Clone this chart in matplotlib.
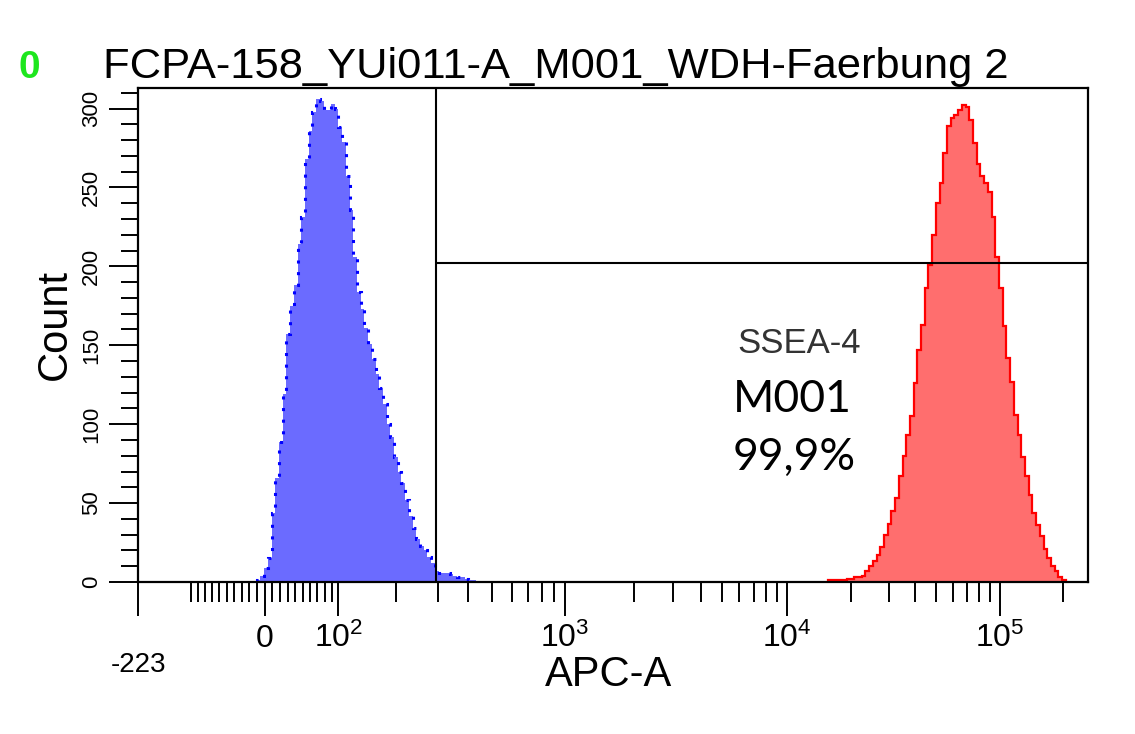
import numpy as np
import matplotlib
matplotlib.use("Agg")
import matplotlib.pyplot as plt

# ---- data ----
title = "FCPA-158_YUi011-A_M001_WDH-Faerbung 2"
x_label = "APC-A"
y_label = "Count"

# biexponential (logicle) display of the APC-A channel
T_top = 262144.0
M_dec = 4.5
W_lin = 0.6
n_channels = 256

# counts per display channel
blue_first = 32
blue_counts = [1, 4, 9, 15, 44, 66, 89, 119, 157, 175, 188, 214, 231, 268, 286,
               298, 306, 305, 299, 299, 303, 300, 288, 279, 257, 236, 206, 184,
               173, 161, 151, 141, 132, 123, 113, 100, 92, 79, 70, 63, 52, 42,
               34, 27, 23, 20, 16, 12, 7, 6, 6, 6, 5, 4, 3, 3, 2, 1, 1]
red_first = 186
red_counts = [1, 1, 1, 1, 1, 2, 2, 3, 3, 4, 7, 10, 13, 17, 22, 30, 37, 45, 53,
              67, 80, 93, 105, 126, 147, 163, 186, 201, 220, 240, 253, 272, 289,
              294, 296, 299, 302, 301, 293, 278, 265, 257, 253, 247, 231, 206,
              186, 162, 142, 127, 106, 93, 79, 67, 55, 44, 36, 29, 21, 15, 10,
              7, 3, 1]

gate_x = 295
gate_y = 202

x_major = [0, 1e2, 1e3, 1e4, 1e5]
x_major_labels = ["0", "$10^{2}$", "$10^{3}$", "$10^{4}$", "$10^{5}$"]
x_min_label = "-223"
y_major = [0, 50, 100, 150, 200, 250, 300]
y_max = 313

marker_name = "SSEA-4"
marker_gate = "M001"
marker_pct = "99,9%"


# ---- logicle transform ----
def solve_p(w):
    lo, hi = 1.000001, 1000.0
    for _ in range(200):
        mid = 0.5 * (lo + hi)
        if 2 * mid * np.log10(mid) / (mid + 1) < w:
            lo = mid
        else:
            hi = mid
    return 0.5 * (lo + hi)


p = solve_p(W_lin)


def logicle_inv(y):
    y = np.asarray(y, dtype=float)
    yy = np.where(y >= W_lin, y, 2 * W_lin - y)
    v = T_top * 10 ** (-(M_dec - W_lin)) * (10 ** (yy - W_lin)
        - p ** 2 * 10 ** (-(yy - W_lin) / p) + p ** 2 - 1)
    return np.where(y >= W_lin, v, -v)


grid_y = np.linspace(-1.5, M_dec + 1.0, 40001)
grid_x = logicle_inv(grid_y)


def logicle_fwd(x):
    return np.interp(np.asarray(x, dtype=float), grid_x, grid_y)


plt.rcParams['font.family'] = ['Liberation Sans', 'DejaVu Sans']
plt.rcParams['mathtext.fontset'] = 'custom'
plt.rcParams['mathtext.rm'] = 'Liberation Sans'
plt.rcParams['mathtext.it'] = 'Liberation Sans:italic'
plt.rcParams['mathtext.bf'] = 'Liberation Sans:bold'

fig = plt.figure(figsize=(11.35, 7.34), dpi=100)
ax = fig.add_axes([138 / 1135, 1 - 582 / 734, 950 / 1135, 494 / 734])
ax.set_xscale('function', functions=(logicle_fwd, logicle_inv))

x_lo = float(logicle_inv(0.0))
edges = logicle_inv(np.linspace(0, M_dec, n_channels + 1))

blue_edges = edges[blue_first:blue_first + len(blue_counts) + 1]
red_edges = edges[red_first:red_first + len(red_counts) + 1]

ax.stairs(blue_counts, blue_edges, fill=True, color='#6b6bff', zorder=1)
ax.stairs(blue_counts, blue_edges, color='#0000ff', lw=2.2,
          ls=(0, (1.0, 2.8)), zorder=2)
ax.stairs(red_counts, red_edges, fill=True, color='#ff6e6e', zorder=1)
ax.stairs(red_counts, red_edges, color='#ff0000', lw=1.6, zorder=2)

# marker gate
ax.axvline(gate_x, color='black', lw=1.5, zorder=3)
ax.plot([gate_x, T_top], [gate_y, gate_y], color='black', lw=1.5, zorder=3,
        solid_capstyle='butt')

ax.set_xlim(x_lo, T_top)
ax.set_ylim(0, y_max)

# ticks
x_minor = []
for d in [10, 100, 1000, 10000]:
    for k in range(1, 10):
        x_minor.append(k * d)
        if d <= 100:
            x_minor.append(-k * d)
x_minor += [100000, 200000]
x_minor = [v for v in x_minor if v not in x_major and v > x_lo]

ax.set_xticks([x_lo] + x_major, [""] + x_major_labels, va='baseline')
ax.set_xticks(x_minor, minor=True)
ax.tick_params(axis='x', which='major', length=24.5, width=1.4, pad=22.3,
               labelsize=23, direction='out')
ax.tick_params(axis='x', which='minor', length=14.4, width=1.4, direction='out')

ax.set_yticks(y_major, [str(v) for v in y_major], rotation=90, va='center')
ax.set_yticks(np.arange(0, y_max, 10), minor=True)
ax.tick_params(axis='y', which='major', length=21, width=1.4, pad=5,
               labelsize=16, direction='out')
ax.tick_params(axis='y', which='minor', length=12, width=1.4, direction='out')

for s in ax.spines.values():
    s.set_linewidth(1.6)

ax.annotate(x_min_label, xy=(x_lo, 0), xycoords=('data', 'axes fraction'),
            xytext=(0, -90 * 0.72), textcoords='offset points',
            ha='center', va='baseline', fontsize=20)

# labels and title
fig.text(609 / 1135, 1 - 686 / 734, x_label, ha='center', va='baseline',
         fontsize=30)
fig.text(55 / 1135, 1 - 324 / 734, y_label, ha='center', va='center',
         rotation=90, fontsize=30)
fig.text(103 / 1135, 1 - 78 / 734, title, ha='left', va='baseline',
         fontsize=31.3)
fig.text(29 / 1135, 1 - 78 / 734, "0", ha='center', va='baseline',
         fontsize=28, fontweight='bold', color='#1ee61e')

# marker annotation
ax.text(0.6305, 0.4636, marker_name, transform=ax.transAxes, ha='left',
        va='baseline', fontsize=25, color='#333333')
ax.text(0.626, 0.344, marker_gate, transform=ax.transAxes, ha='left',
        va='baseline', fontsize=32, family=['Lato', 'DejaVu Sans'])
ax.text(0.626, 0.2267, marker_pct, transform=ax.transAxes, ha='left',
        va='baseline', fontsize=32, family=['Lato', 'DejaVu Sans'])

fig.savefig('out.png', dpi=100)
plt.close(fig)
